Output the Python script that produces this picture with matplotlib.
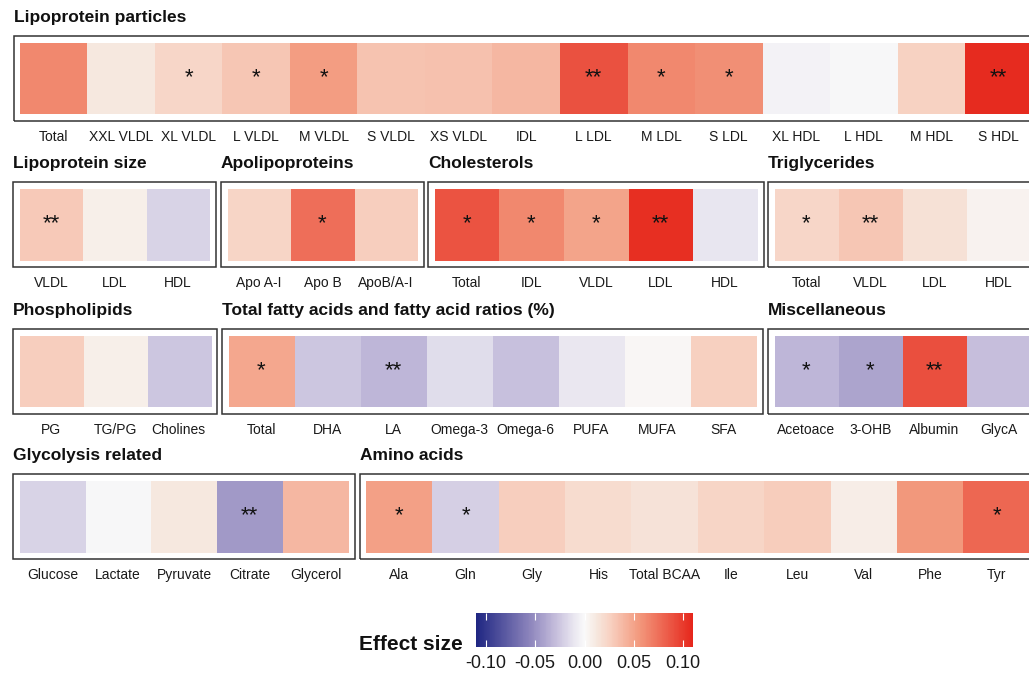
import matplotlib

matplotlib.use("Agg")
import numpy as np
from matplotlib import pyplot as plt
from matplotlib.cm import ScalarMappable
from matplotlib.colors import LinearSegmentedColormap, Normalize
from matplotlib.patches import Rectangle

plt.rcParams["font.family"] = ["Liberation Sans", "DejaVu Sans"]

# effect sizes, stars = significance marks
PARTICLE_LABELS = ["Total", "XXL VLDL", "XL VLDL", "L VLDL", "M VLDL", "S VLDL", "XS VLDL",
                   "IDL", "L LDL", "M LDL", "S LDL", "XL HDL", "L HDL", "M HDL", "S HDL"]
PARTICLE_EFFECTS = [0.063, 0.012, 0.023, 0.031, 0.053, 0.033, 0.034,
                    0.039, 0.089, 0.063, 0.060, -0.004, -0.001, 0.025, 0.107]
PARTICLE_STARS = ["", "", "*", "*", "*", "", "", "", "**", "*", "*", "", "", "", "**"]

SIZE_LABELS = ["VLDL", "LDL", "HDL"]
SIZE_EFFECTS = [0.030, 0.007, -0.019]
SIZE_STARS = ["**", "", ""]

APO_LABELS = ["Apo A-I", "Apo B", "ApoB/A-I"]
APO_EFFECTS = [0.024, 0.075, 0.027]
APO_STARS = ["", "*", ""]

CHOL_LABELS = ["Total", "IDL", "VLDL", "LDL", "HDL"]
CHOL_EFFECTS = [0.088, 0.063, 0.049, 0.105, -0.011]
CHOL_STARS = ["*", "*", "*", "**", ""]

TG_LABELS = ["Total", "VLDL", "LDL", "HDL"]
TG_EFFECTS = [0.023, 0.031, 0.016, 0.005]
TG_STARS = ["*", "**", "", ""]

PL_LABELS = ["PG", "TG/PG", "Cholines"]
PL_EFFECTS = [0.027, 0.007, -0.025]
PL_STARS = ["", "", ""]

FA_LABELS = ["Total", "DHA", "LA", "Omega-3", "Omega-6", "PUFA", "MUFA", "SFA"]
FA_EFFECTS = [0.048, -0.025, -0.032, -0.015, -0.028, -0.010, 0.002, 0.026]
FA_STARS = ["*", "", "**", "", "", "", "", ""]

MISC_LABELS = ["Acetoace", "3-OHB", "Albumin", "GlycA"]
MISC_EFFECTS = [-0.032, -0.041, 0.090, -0.029]
MISC_STARS = ["*", "*", "**", ""]

GLYC_LABELS = ["Glucose", "Lactate", "Pyruvate", "Citrate", "Glycerol"]
GLYC_EFFECTS = [-0.019, -0.001, 0.012, -0.046, 0.039]
GLYC_STARS = ["", "", "", "**", ""]

AA_LABELS = ["Ala", "Gln", "Gly", "His", "Total BCAA", "Ile", "Leu", "Val", "Phe", "Tyr"]
AA_EFFECTS = [0.051, -0.021, 0.027, 0.019, 0.015, 0.024, 0.028, 0.008, 0.055, 0.079]
AA_STARS = ["*", "*", "", "", "", "", "", "", "", "*"]

COLORBAR_TICKS = [-0.10, -0.05, 0.00, 0.05, 0.10]
COLORBAR_TICK_LABELS = ["-0.10", "-0.05", "0.00", "0.05", "0.10"]

FIG_W, FIG_H = 1029, 674
EFFECT_LIMIT = 0.11
# colour stops (effect value, colour) of the diverging scale
SCALE_STOPS = [(-0.11, "#1f2682"), (-0.055, "#8e86bd"), (-0.03, "#c4bcdb"), (-0.012, "#e7e4ef"),
               (0.0, "#fafafa"), (0.012, "#f6e8df"), (0.025, "#f8d3c4"), (0.055, "#f39a7e"),
               (0.11, "#e6261b")]
CMAP = LinearSegmentedColormap.from_list(
    "effect", [((v + EFFECT_LIMIT) / (2 * EFFECT_LIMIT), c) for v, c in SCALE_STOPS]
)
NORM = Normalize(-EFFECT_LIMIT, EFFECT_LIMIT)

ROW_TILE_TOP = [43, 189, 336, 481]
TILE_HEIGHT = 71.5
PAD_X = 6.5
PAD_TOP = 7
PAD_BOTTOM = 6.5

# (title, row, tiles left px, tile width px, labels, effects, stars)
PANELS = [
    ("Lipoprotein particles", 0, 20, 67.5, PARTICLE_LABELS, PARTICLE_EFFECTS, PARTICLE_STARS),
    ("Lipoprotein size", 1, 19.5, 63.3, SIZE_LABELS, SIZE_EFFECTS, SIZE_STARS),
    ("Apolipoproteins", 1, 227.5, 63.3, APO_LABELS, APO_EFFECTS, APO_STARS),
    ("Cholesterols", 1, 434.5, 64.6, CHOL_LABELS, CHOL_EFFECTS, CHOL_STARS),
    ("Triglycerides", 1, 774.5, 64.0, TG_LABELS, TG_EFFECTS, TG_STARS),
    ("Phospholipids", 2, 19.5, 63.7, PL_LABELS, PL_EFFECTS, PL_STARS),
    ("Total fatty acids and fatty acid ratios (%)", 2, 228.5, 66.0, FA_LABELS, FA_EFFECTS, FA_STARS),
    ("Miscellaneous", 2, 774.5, 64.0, MISC_LABELS, MISC_EFFECTS, MISC_STARS),
    ("Glycolysis related", 3, 19.5, 65.8, GLYC_LABELS, GLYC_EFFECTS, GLYC_STARS),
    ("Amino acids", 3, 366, 66.4, AA_LABELS, AA_EFFECTS, AA_STARS),
]


def px_rect(left, top, width, height):
    return [left / FIG_W, 1 - (top + height) / FIG_H, width / FIG_W, height / FIG_H]


def draw_panel(fig, title, row, left, tile_w, labels, effects, stars):
    top = ROW_TILE_TOP[row]
    n = len(labels)
    width = n * tile_w
    ax = fig.add_axes(px_rect(left, top, width, TILE_HEIGHT))
    ax.imshow(np.array(effects)[None, :], cmap=CMAP, norm=NORM, aspect="auto",
              extent=(0, n, 0, 1), interpolation="nearest")
    for i, mark in enumerate(stars):
        if mark:
            ax.text(i + 0.5, 0.51, mark, ha="center", va="center", fontsize=16, color="#111111")
    ax.set_xlim(0, n)
    ax.set_ylim(0, 1)
    ax.set_xticks(np.arange(n) + 0.5, labels)
    ax.tick_params(axis="x", length=0, pad=11.5, labelsize=10, labelcolor="#1a1a1a")
    ax.set_yticks([])
    for spine in ax.spines.values():
        spine.set_visible(False)

    frame_left = left - PAD_X
    frame = Rectangle(
        (frame_left / FIG_W, 1 - (top + TILE_HEIGHT + PAD_BOTTOM) / FIG_H),
        (width + 2 * PAD_X) / FIG_W,
        (TILE_HEIGHT + PAD_TOP + PAD_BOTTOM) / FIG_H,
        transform=fig.transFigure, fill=False, edgecolor="#333333", linewidth=1.1,
    )
    fig.add_artist(frame)
    fig.text(frame_left / FIG_W, 1 - (top - 21) / FIG_H, title, fontsize=12.5,
             fontweight="bold", ha="left", va="baseline", color="#111111")


fig = plt.figure(figsize=(FIG_W / 100, FIG_H / 100), dpi=100)
fig.patch.set_facecolor("white")

for panel in PANELS:
    draw_panel(fig, *panel)

cax = fig.add_axes(px_rect(476, 613, 217, 34))
cb = fig.colorbar(ScalarMappable(norm=NORM, cmap=CMAP), cax=cax, orientation="horizontal")
cb.outline.set_visible(False)
cb.set_ticks(COLORBAR_TICKS, labels=COLORBAR_TICK_LABELS)
cax.tick_params(axis="x", direction="in", color="white", length=5, width=0.8,
                top=True, labelsize=13, pad=6, labelcolor="#1a1a1a")
fig.text(463 / FIG_W, 1 - 650 / FIG_H, "Effect size", fontsize=15, fontweight="bold",
         ha="right", va="baseline", color="#111111")

fig.savefig("out.png", dpi=100, facecolor="white")
